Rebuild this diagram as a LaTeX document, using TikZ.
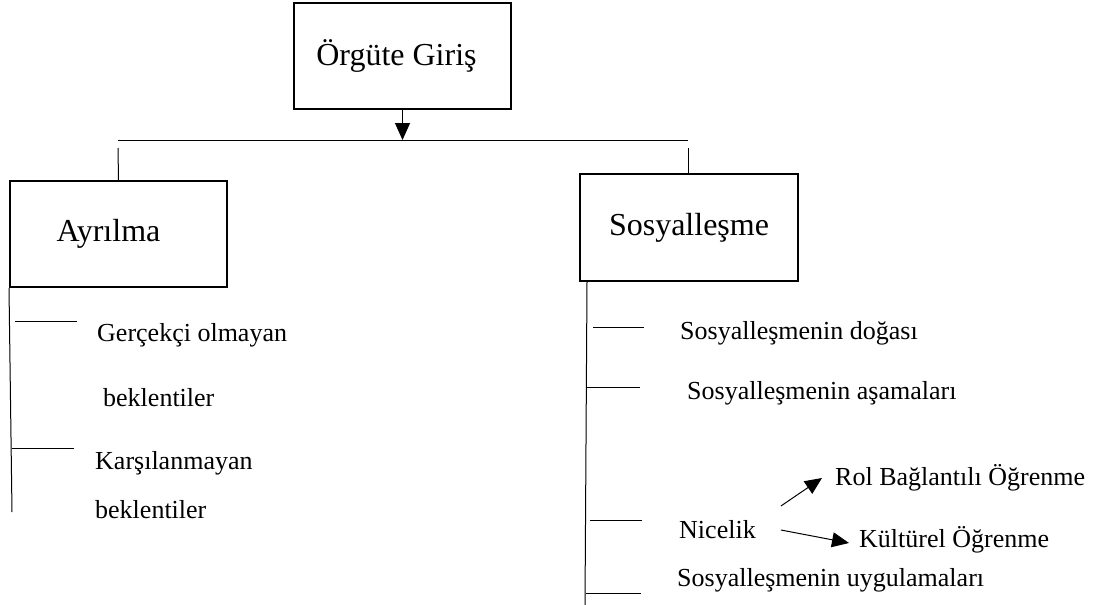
\documentclass[tikz,border=0pt]{standalone}
\usepackage{fontspec}
\setmainfont{Liberation Serif}
\usetikzlibrary{arrows.meta,positioning}

\begin{document}
\begin{tikzpicture}[x=1pt,y=-1pt,
        kutu/.style={draw,line width=2pt,minimum width=217pt,minimum height=106pt,
          font=\fontsize{32}{38}\selectfont},
        yazi/.style={anchor=west,inner sep=0pt,font=\fontsize{26}{31}\selectfont},
        cizgi/.style={line width=1pt},
        ok/.style={cizgi,-{Triangle[length=17pt,width=15pt]}}]
        \useasboundingbox (0,0) rectangle (1109,605);
        % kutular
        \node[kutu] (giris) at (402.5,56) {Örgüte Giriş\hspace*{12pt}};
        \node[kutu] (ayr) at (118.5,234) {Ayrılma\hspace*{20pt}};
        \node[kutu,minimum width=218pt,minimum height=107pt] (sos) at (689,227.5) {Sosyalleşme};
        % ust baglanti
        \coordinate (hl) at (118,140);
        \coordinate (hr) at (688,140);
        \coordinate (hm) at (giris.south |- hl);
        \draw[ok] (giris.south) -- (hm);
        \draw[cizgi] (hl) -- (hr);
        \draw[cizgi] (118,148) -- (ayr.north);
        \draw[cizgi] (688,148) -- (sos.north -| 688,0);
        % sol dal
        \coordinate (sa) at (12,512);
        \draw[cizgi] (ayr.south west) -- (sa);
        \draw[cizgi] (15,321) -- (77,321);
        \draw[cizgi] (12,448) -- (74,448);
        \node[yazi] (g1) at (97,335) {Gerçekçi olmayan};
        \node[yazi] (g2) at (103,398) {beklentiler};
        \node[yazi] (k1) at (95,463) {Karşılanmayan};
        \node[yazi] (k2) at (95,510) {beklentiler};
        % sag dal
        \coordinate (sb) at (585,605);
        \draw[cizgi] (sos.south west) ++(8,0) coordinate (st) -- (sb);
        \draw[cizgi] (593,327) -- (644,327);
        \draw[cizgi] (587,387) -- (640,387);
        \draw[cizgi] (590,520) -- (642,520);
        \draw[cizgi] (586,593) -- (641,593);
        \node[yazi] (d1) at (680,333) {Sosyalleşmenin doğası};
        \node[yazi] (d2) at (687,393) {Sosyalleşmenin aşamaları};
        \node[yazi] (nic) at (679,530) {Nicelik};
        \node[yazi] (rol) at (835,478) {Rol Bağlantılı Öğrenme};
        \node[yazi] (kul) at (859,540) {Kültürel Öğrenme};
        \node[yazi] (uyg) at (677,580) {Sosyalleşmenin uygulamaları};
        \draw[ok] ([xshift=25pt,yshift=24pt]nic.east) -- ([xshift=-13pt]rol.west);
        \draw[ok] ([xshift=25pt]nic.east) -- ([xshift=-10pt,yshift=-3pt]kul.west);
\end{tikzpicture}
\end{document}
